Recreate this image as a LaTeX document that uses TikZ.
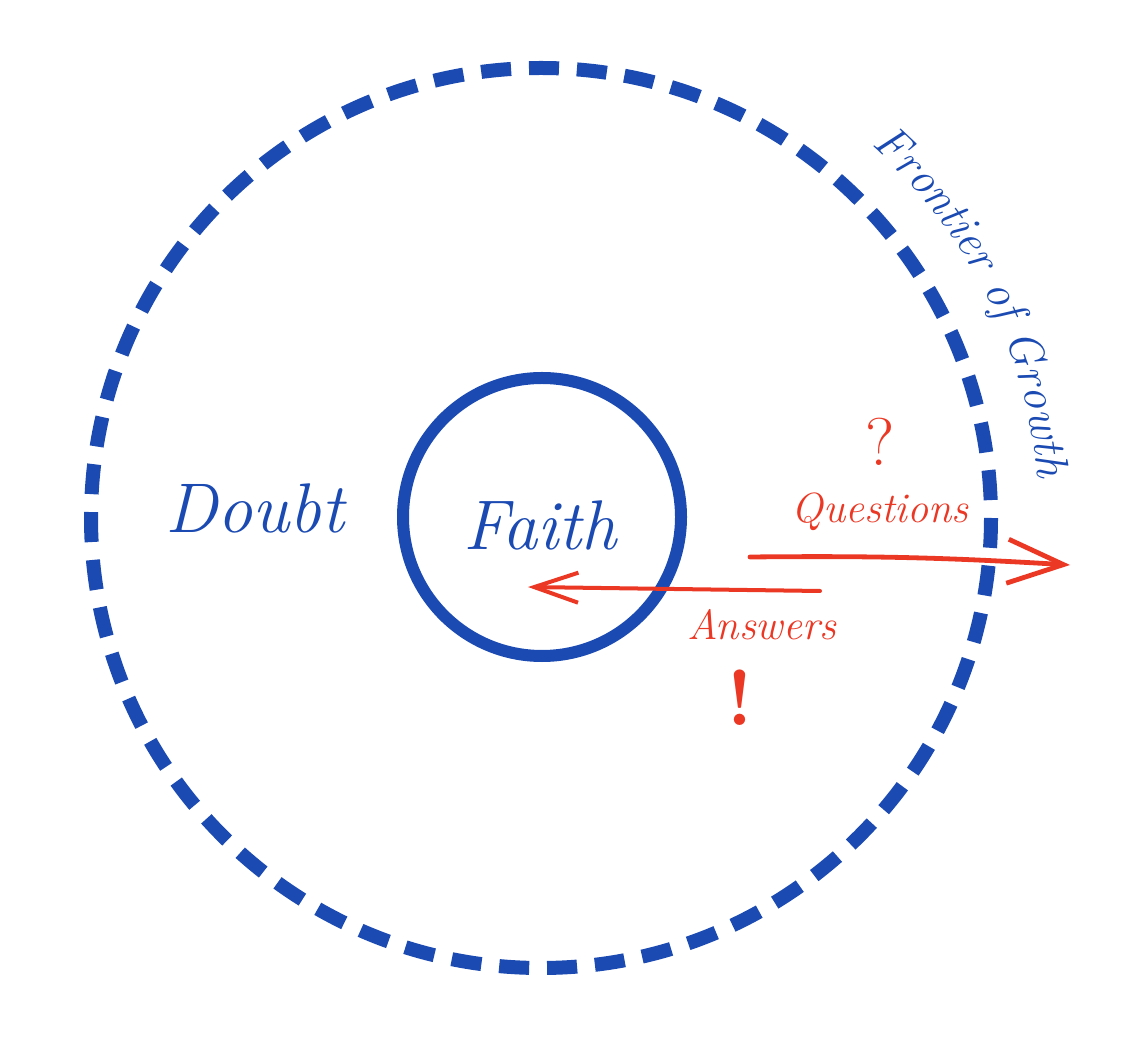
\documentclass[tikz,border=0pt]{standalone}
\usepackage{xcolor}
\definecolor{inkblue}{RGB}{26,74,178}
\definecolor{inkred}{RGB}{235,56,36}
\usepackage{tikz}
\usetikzlibrary{arrows.meta,positioning,decorations.text}

\begin{document}
\begin{tikzpicture}[x=0.025cm, y=0.025cm,
    bluetext/.style={text=inkblue, font=\fontsize{50}{60}\selectfont\itshape},
    redtext/.style={text=inkred, font=\fontsize{30}{36}\selectfont\itshape},
    redarrow/.style={inkred, line cap=round}]
    \useasboundingbox (0,0) rectangle (1122,1039);

    % Frontier (dashed) and core circle
    \coordinate (centre) at (541,521);
    \draw[inkblue, line width=0.35cm, dash pattern=on 0.75cm off 0.448cm, dash phase=0.75cm] (centre) circle[radius=450];
    \draw[inkblue, line width=0.3cm] (542,522) circle[radius=139];

    % Frontier label along the outside
    \path[decorate, decoration={text along path, text align=center, text color=inkblue,
        text={|\fontsize{33}{40}\selectfont\itshape|Frontier of Growth}}]
        (centre) ++(51:12.45cm) arc[start angle=51, end angle=2, radius=12.45cm];

    % Region labels
    \node[bluetext] (doubt) at (255,531) {Doubt};
    \node[bluetext] (faith) at (540,514) {Faith};

    % Questions go out, answers come in
    \node[redtext] (questions) at (880,527) {Questions};
    \node[redtext] (answers) at (762,414) {Answers};
    \node[redtext, font=\fontsize{48}{56}\selectfont] (query) at (880,597) {?};
    \node[redtext, font=\fontsize{56}{64}\selectfont\bfseries] (bang) at (740,341) {!};

    \coordinate (q-tail) at (750,482);
    \coordinate (q-tip) at (1070,474);
    \draw[redarrow, line width=0.12cm, -{Straight Barb[length=1.4cm, width=1.1cm]}] (q-tail) to[bend left=2] (q-tip);
    \coordinate (a-tail) at (820,448);
    \coordinate (a-tip) at (528,452);
    \draw[redarrow, line width=0.1cm, -{Straight Barb[length=1.1cm, width=0.75cm]}] (a-tail) -- (a-tip);
\end{tikzpicture}
\end{document}
